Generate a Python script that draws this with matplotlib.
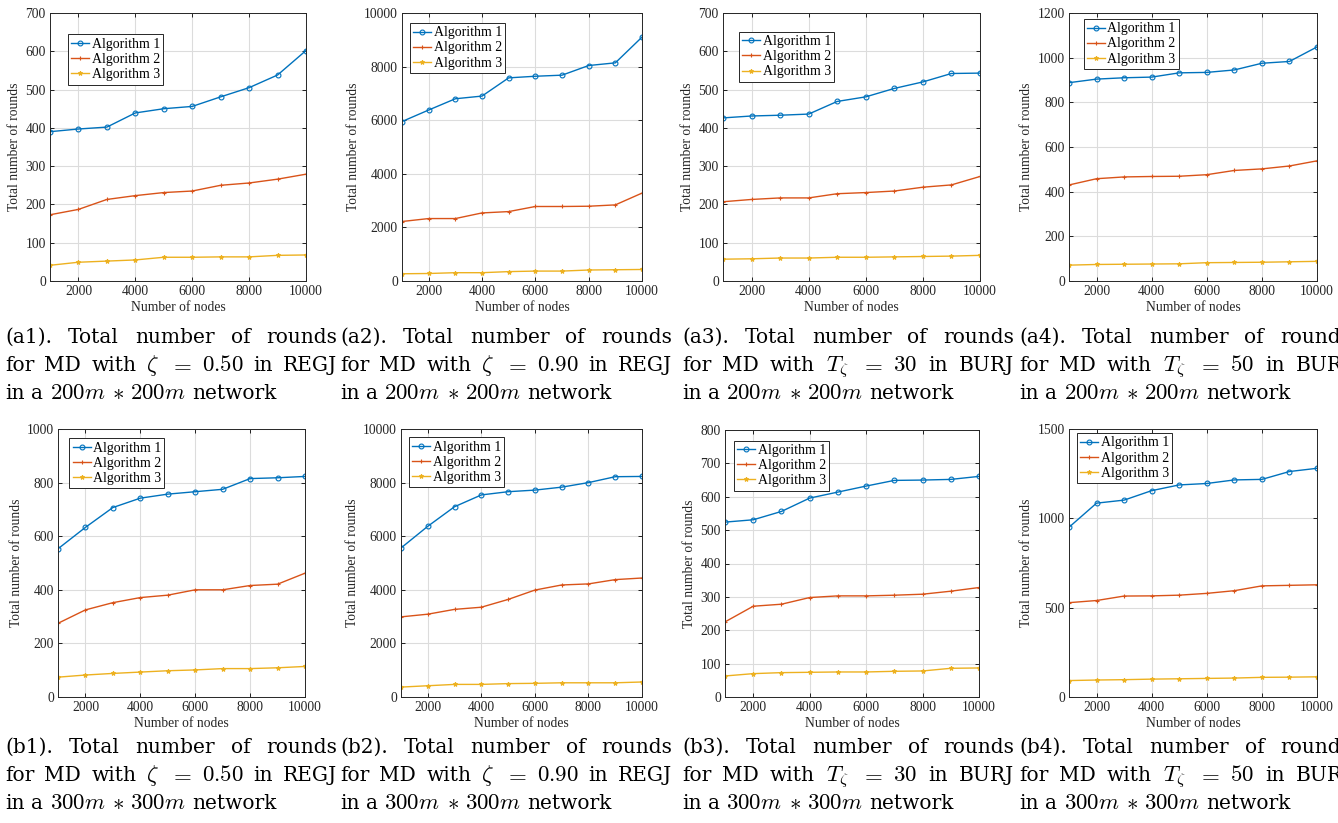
import matplotlib
matplotlib.use('Agg')
import matplotlib.pyplot as plt

# ----------------------------
# Data
# ----------------------------
nodes = [1000, 2000, 3000, 4000, 5000, 6000, 7000, 8000, 9000, 10000]
labels = ['Algorithm 1', 'Algorithm 2', 'Algorithm 3']

a1_alg1 = [390, 397, 402, 439, 450, 456, 481, 505, 538, 602]
a1_alg2 = [173, 187, 213, 223, 231, 235, 250, 256, 266, 279]
a1_alg3 = [41, 49, 52, 55, 62, 62, 63, 63, 67, 68]

a2_alg1 = [5950, 6380, 6800, 6900, 7580, 7640, 7680, 8040, 8140, 9100]
a2_alg2 = [2220, 2330, 2330, 2540, 2590, 2780, 2780, 2790, 2840, 3280]
a2_alg3 = [270, 280, 310, 310, 350, 370, 370, 410, 420, 430]

a3_alg1 = [426, 431, 433, 436, 469, 481, 503, 520, 542, 543]
a3_alg2 = [207, 213, 217, 217, 228, 231, 235, 245, 251, 273]
a3_alg3 = [57, 58, 60, 60, 62, 62, 63, 64, 65, 67]

a4_alg1 = [888, 904, 910, 913, 932, 934, 945, 975, 983, 1048]
a4_alg2 = [430, 458, 466, 468, 469, 476, 495, 502, 515, 538]
a4_alg3 = [71, 74, 75, 76, 77, 82, 83, 84, 86, 88]

b1_alg1 = [553, 633, 707, 742, 757, 766, 775, 815, 818, 823]
b1_alg2 = [275, 325, 352, 371, 380, 400, 400, 416, 421, 462]
b1_alg3 = [74, 82, 88, 93, 98, 101, 106, 106, 109, 114]

b2_alg1 = [5560, 6370, 7100, 7540, 7660, 7720, 7830, 8000, 8220, 8230]
b2_alg2 = [2990, 3090, 3270, 3350, 3640, 3990, 4180, 4220, 4380, 4440]
b2_alg3 = [370, 420, 470, 470, 500, 510, 530, 530, 530, 560]

b3_alg1 = [524, 531, 556, 596, 614, 632, 649, 650, 652, 661]
b3_alg2 = [225, 272, 278, 298, 303, 303, 305, 308, 317, 328]
b3_alg3 = [63, 70, 73, 74, 75, 75, 77, 78, 86, 87]

b4_alg1 = [950, 1085, 1102, 1155, 1187, 1195, 1215, 1218, 1262, 1280]
b4_alg2 = [528, 540, 565, 566, 570, 580, 595, 622, 625, 628]
b4_alg3 = [92, 95, 97, 100, 102, 104, 106, 110, 111, 113]

# (series, y max, y step, axes box in px: left, top, right, bottom, legend anchor)
panels = [
    ((a1_alg1, a1_alg2, a1_alg3), 700, 100, (50, 13, 306, 281), (0.07, 0.92)),
    ((a2_alg1, a2_alg2, a2_alg3), 10000, 2000, (402, 13, 642, 281), (0.033, 0.963)),
    ((a3_alg1, a3_alg2, a3_alg3), 700, 100, (723, 13, 980, 281), (0.062, 0.93)),
    ((a4_alg1, a4_alg2, a4_alg3), 1200, 200, (1069, 13, 1317, 281), (0.06, 0.978)),
    ((b1_alg1, b1_alg2, b1_alg3), 1000, 200, (58, 429, 305, 697), (0.045, 0.966)),
    ((b2_alg1, b2_alg2, b2_alg3), 10000, 2000, (401, 429, 642, 697), (0.033, 0.97)),
    ((b3_alg1, b3_alg2, b3_alg3), 800, 100, (725, 430, 979, 697), (0.035, 0.96)),
    ((b4_alg1, b4_alg2, b4_alg3), 1500, 500, (1069, 429, 1317, 697), (0.032, 0.985)),
]

# caption tokens: first two lines justified, third line left aligned
captions = [
    ('a1', [r'$\zeta$', r'$=$', r'$0.50$'], 'REGJ', '200'),
    ('a2', [r'$\zeta$', r'$=$', r'$0.90$'], 'REGJ', '200'),
    ('a3', [r'$T_{\zeta}$', r'$=$', r'$30$'], 'BURJ', '200'),
    ('a4', [r'$T_{\zeta}$', r'$=$', r'$50$'], 'BURJ', '200'),
    ('b1', [r'$\zeta$', r'$=$', r'$0.50$'], 'REGJ', '300'),
    ('b2', [r'$\zeta$', r'$=$', r'$0.90$'], 'REGJ', '300'),
    ('b3', [r'$T_{\zeta}$', r'$=$', r'$30$'], 'BURJ', '300'),
    ('b4', [r'$T_{\zeta}$', r'$=$', r'$50$'], 'BURJ', '300'),
]
cap_x = [5, 340, 682, 1019]
cap_base = [(343, 371, 399), (753, 781, 809)]
cap_width = 332

colors = ['#0072BD', '#D95319', '#EDB120']
markers = ['o', '+', '*']

# ----------------------------
# Plot
# ----------------------------
plt.rcParams['font.family'] = ['Liberation Serif', 'DejaVu Serif']
plt.rcParams['mathtext.fontset'] = 'cm'

W, H = 1338, 823
fig = plt.figure(figsize=(W / 100, H / 100), dpi=100)

for series, ymax, ystep, box, leg in panels:
    l, t, r, b = box
    ax = fig.add_axes([l / W, 1 - b / H, (r - l) / W, (b - t) / H])
    for vals, lab, c, m in zip(series, labels, colors, markers):
        ax.plot(nodes, vals, color=c, marker=m, markersize=3.5 if m != '*' else 3.2,
                markerfacecolor='none' if m == 'o' else c, markeredgewidth=0.8,
                linewidth=1.0, label=lab)
    ax.set_xlim(1000, 10000)
    ax.set_ylim(0, ymax)
    ax.set_xticks(range(2000, 10001, 2000))
    ax.set_yticks(range(0, ymax + 1, ystep))
    ax.grid(True, color='#dcdcdc', linewidth=0.8)
    ax.set_axisbelow(True)
    ax.tick_params(direction='in', top=True, right=True, length=3, width=0.6,
                   labelsize=9.8, labelcolor='#262626', pad=3)
    for s in ax.spines.values():
        s.set_color('#262626')
        s.set_linewidth(0.7)
    ax.set_xlabel('Number of nodes', fontsize=9.8, color='#262626', labelpad=2)
    ax.set_ylabel('Total number of rounds', fontsize=9.8, color='#262626', labelpad=3)
    lg = ax.legend(loc='upper left', bbox_to_anchor=leg, borderaxespad=0, fontsize=10,
                   frameon=True, fancybox=False, framealpha=1, edgecolor='#262626',
                   borderpad=0.25, labelspacing=0.15, handlelength=1.3, handletextpad=0.15)
    lg.get_frame().set_linewidth(0.7)

# ----------------------------
# Captions (justified like the paper)
# ----------------------------
renderer = fig.canvas.get_renderer()


def cap_text(x, yb, tok):
    # math pieces use Computer Modern, drawn a bit larger to match the text
    size = 16.5 if tok.startswith('$') else 14.5
    return fig.text(x / W, 1 - yb / H, tok, fontsize=size, color='black',
                    va='baseline', ha='left', family=['DejaVu Serif'])


def justify(tokens, x0, yb, width):
    texts = [cap_text(x0, yb, tok) for tok in tokens]
    widths = [tx.get_window_extent(renderer).width for tx in texts]
    gap = (width - sum(widths)) / (len(tokens) - 1)
    x = x0
    for tx, w in zip(texts, widths):
        tx.set_x(x / W)
        x += w + gap


def run(tokens, x0, yb, gap=6.5):
    x = x0
    for tok in tokens:
        tx = cap_text(x, yb, tok)
        x += tx.get_window_extent(renderer).width + gap


for i, (tag, math, join, size) in enumerate(captions):
    row, col = divmod(i, 4)
    x0 = cap_x[col]
    y1, y2, y3 = cap_base[row]
    justify(['(%s).' % tag, 'Total', 'number', 'of', 'rounds'], x0, y1, cap_width)
    justify(['for', 'MD', 'with'] + math + ['in', join], x0, y2, cap_width)
    run(['in', 'a', r'$%sm$' % size, r'$\ast$', r'$%sm$' % size, 'network'], x0, y3)

fig.savefig('out.png', dpi=100)
